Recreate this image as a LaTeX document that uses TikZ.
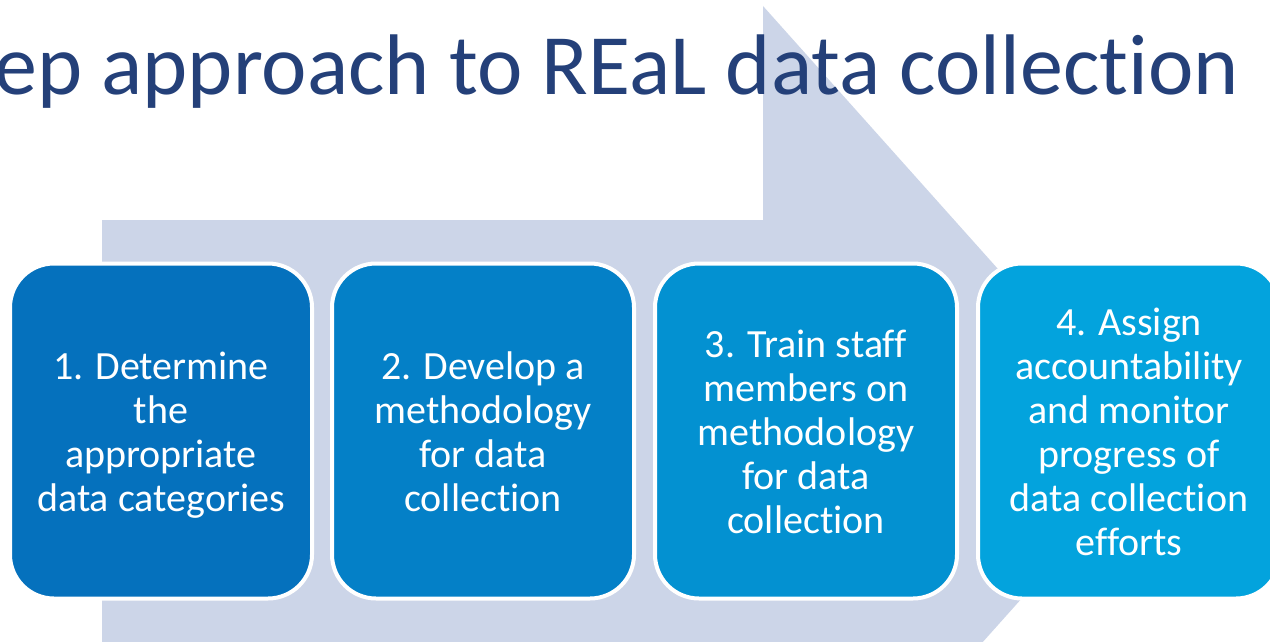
\documentclass[tikz,border=0pt]{standalone}
\usepackage{fontspec}
\setmainfont{Carlito}[Ligatures=NoCommon]
\definecolor{arrowfill}{RGB}{204,213,232}
\definecolor{titleblue}{RGB}{36,64,121}
\definecolor{stepA}{RGB}{5,113,189}
\definecolor{stepB}{RGB}{4,128,199}
\definecolor{stepC}{RGB}{3,145,209}
\definecolor{stepD}{RGB}{3,163,221}
% a tall invisible rule that sets the step text a little below centre
\newcommand\steptop{\rule{0pt}{42.8pt}}
\begin{document}
\begin{tikzpicture}[x=1pt,y=-1pt,
  stepbox/.style={draw=white, line width=4pt, rounded corners=44pt,
    minimum width=302pt, minimum height=335pt, inner sep=0pt,
    text=white, align=center, font=\fontsize{40}{44}\selectfont}]
  \useasboundingbox (0,0) rectangle (1270,642);
  \clip (0,0) rectangle (1270,642);
  \fill[white] (0,0) rectangle (1270,642);
  % large background arrow
  \fill[arrowfill] (102,220) -- (763,220) -- (763,6) -- (1157,447)
    -- (763,888) -- (763,674) -- (102,674) -- cycle;
  % title
  \node[anchor=base east, inner sep=0pt, text=titleblue,
    font=\fontsize{86}{94}\selectfont] (title) at (1239,95)
    {tep approach to REaL data collection};
  % the four steps
  \node[stepbox, fill=stepA] (s1) at (161,431)
    {\steptop 1. Determine\\the\\appropriate\\data categories\strut};
  \node[stepbox, fill=stepB] (s2) at (483,431)
    {\steptop 2. Develop a\\methodology\\for data\\collection\strut};
  \node[stepbox, fill=stepC] (s3) at (806,431)
    {\steptop 3. Train staff\\members on\\methodology\\for data\\collection\strut};
  \node[stepbox, fill=stepD] (s4) at (1129,431)
    {\steptop 4. Assign\\accountability\\and monitor\\progress of\\data collection\\efforts\strut};
\end{tikzpicture}
\end{document}
